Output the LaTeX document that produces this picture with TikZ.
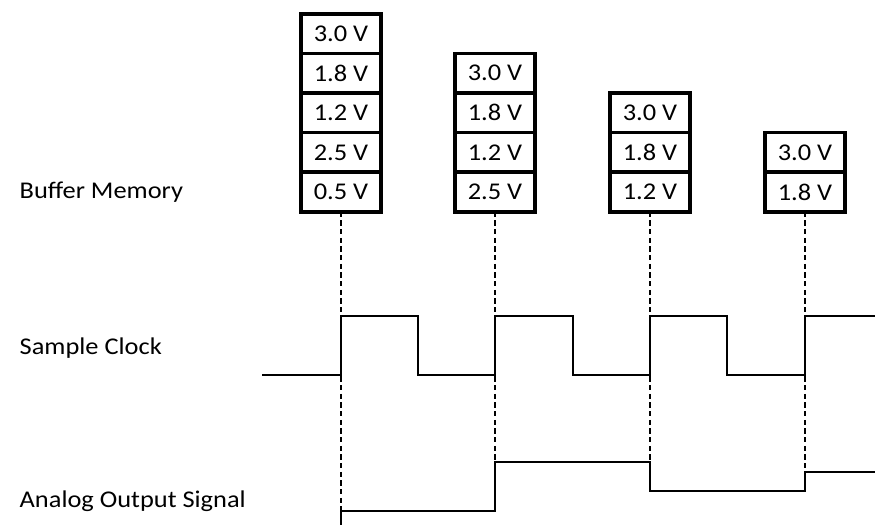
\documentclass[tikz,border=0pt]{standalone}
\usepackage{fontspec}
\setmainfont{Carlito}[FakeStretch=1.1]
\usetikzlibrary{positioning}

\begin{document}
\begin{tikzpicture}[x=0.75pt, y=-0.75pt,
    cell/.style={draw, line width=2.6pt, minimum width=60pt, minimum height=29.7pt,
                 inner sep=0pt, outer sep=0pt, font=\fontsize{18}{20}\selectfont},
    rowlabel/.style={anchor=base west, font=\fontsize{18}{20}\selectfont},
    signal/.style={line width=1.1pt},
    guide/.style={line width=0.8pt, dash pattern=on 4pt off 2.5pt}]
    \useasboundingbox (0,0) rectangle (875,525);

    % Row labels
    \node[rowlabel] (lbuffer) at (15,198) {Buffer Memory};
    \node[rowlabel] (lclock) at (15,354) {Sample Clock};
    \node[rowlabel] (lanalog) at (15,507) {Analog Output Signal};

    % Buffer memory stacks (bottom cell first)
    \foreach \x/\vals [count=\k] in {341/{0.5,2.5,1.2,1.8,3.0}, 495/{2.5,1.2,1.8,3.0},
                                     650/{1.2,1.8,3.0}, 805/{1.8,3.0}} {
        \foreach \val [count=\j] in \vals {
            \node[cell] (m\k-\j) at (\x,{192-39.6*(\j-1)}) {\val\ V};
        }
    }

    % Analog output levels
    \coordinate (a1) at (341,511);
    \coordinate (a2) at (495,462);
    \coordinate (a3) at (650,462);
    \coordinate (a4) at (805,472);

    % Update guides
    \foreach \k in {1,...,4} {
        \draw[guide] (m\k-1.south) -- (a\k);
    }

    % Sample clock
    \draw[signal] (262,375) -| (341,316) -| (418,375) -| (495,316) -| (573,375)
                  -| (650,316) -| (727,375) -| (805,316) -- (875,316);

    % Analog output signal
    \draw[signal] (341,525) -- (a1) -| (a2) -- (a3) |- (805,491) -- (a4) -- (875,472);
\end{tikzpicture}
\end{document}
